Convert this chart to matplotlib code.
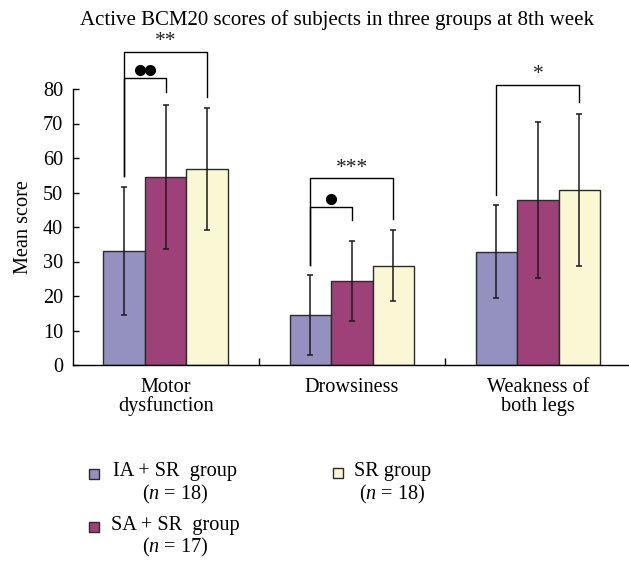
import matplotlib
matplotlib.use("Agg")
import matplotlib.pyplot as plt
import numpy as np
from matplotlib.patches import Rectangle

plt.rcParams['font.family'] = ['Liberation Serif', 'DejaVu Serif']
plt.rcParams['mathtext.fontset'] = 'custom'
plt.rcParams['mathtext.rm'] = 'Liberation Serif'
plt.rcParams['mathtext.it'] = 'Liberation Serif:italic'

categories = ['Motor\ndysfunction', 'Drowsiness', 'Weakness of\nboth legs']
groups = ['IA + SR  group', 'SA + SR  group', 'SR group']
group_n = [18, 17, 18]
colors = ['#9490c0', '#9e4179', '#faf7d4']

means = {
    'IA': [33.1, 14.5, 32.8],
    'SA': [54.5, 24.4, 47.9],
    'SR': [56.8, 28.8, 50.8],
}
errs = {
    'IA': [18.6, 11.7, 13.5],
    'SA': [21.0, 11.6, 22.6],
    'SR': [17.8, 10.3, 22.0],
}

# (category, left bar, right bar, top, left leg end, right leg end, label)
brackets = [
    (0, 0, 2, 90.8, 54.8, 77.8, '**'),
    (0, 0, 1, 83.3, 54.8, 79.1, 'dot2'),
    (1, 0, 2, 54.1, 29.0, 42.4, '***'),
    (1, 0, 1, 45.9, 29.0, 42.1, 'dot1'),
    (2, 0, 2, 81.2, 49.3, 76.2, '*'),
]

FS = 14.6
W, H = 629, 562
fig = plt.figure(figsize=(W / 100, H / 100), dpi=100)
ax = fig.add_axes([72.7 / W, 1 - 365 / H, (W - 72.7) / W, (365 - 89) / H])

x = np.arange(len(categories))
bw = 0.223
for i, key in enumerate(['IA', 'SA', 'SR']):
    ax.bar(x + (i - 1) * bw, means[key], bw, color=colors[i],
           edgecolor='#2b2b2b', linewidth=1.0, zorder=2)
    ax.errorbar(x + (i - 1) * bw, means[key], yerr=errs[key], fmt='none',
                ecolor='#1a1a1a', elinewidth=1.1, capsize=2.5, capthick=1.1,
                zorder=3)

for c, l, r, top, lb, rb, lab in brackets:
    xl = c + (l - 1) * bw
    xr = c + (r - 1) * bw
    ax.plot([xl, xl, xr, xr], [lb, top, top, rb], color='black', lw=1.0,
            clip_on=False, zorder=4)
    xm = (xl + xr) / 2
    if lab == 'dot2':
        ax.plot([xm - 0.025, xm + 0.025], [top + 2.1, top + 2.1], 'o',
                color='black', ms=7, clip_on=False)
    elif lab == 'dot1':
        ax.plot([xm], [top + 2.2], 'o', color='black', ms=7, clip_on=False)
    else:
        ax.text(xm, top + 0.2, lab, ha='center', va='bottom', fontsize=15.5,
                color='#222222', clip_on=False)

ax.set_xlim(-0.5, 2.49)
ax.set_ylim(0, 80)
ax.set_yticks(np.arange(0, 81, 10))
ax.set_xticks(x)
ax.set_xticklabels(categories, linespacing=1.0)
ax.set_xticks([0.5, 1.5], minor=True)
ax.tick_params(axis='x', which='major', length=0, pad=9, labelsize=FS)
ax.tick_params(axis='x', which='minor', direction='in', length=5, width=1.0)
ax.tick_params(axis='y', direction='in', length=4, width=1.0, pad=7,
               labelsize=FS)
for s in ['top', 'right']:
    ax.spines[s].set_visible(False)
for s in ['left', 'bottom']:
    ax.spines[s].set_linewidth(1.0)
ax.set_ylabel('Mean score', fontsize=FS, labelpad=7)

fig.text(337 / W, 1 - 20 / H,
         'Active BCM20 scores of subjects in three groups at 8th week',
         ha='center', va='center', fontsize=15)

# legend
leg_pos = [(89, 473.5, 175, 484), (89, 527, 175, 537.5), (333, 473, 392.5, 484)]
for (sx, sy, tx, ty), name, n, col in zip(leg_pos, groups, group_n, colors):
    fig.patches.append(Rectangle((sx / W, 1 - (sy + 5) / H), 10 / W, 10 / H,
                                 transform=fig.transFigure, facecolor=col,
                                 edgecolor='#2b2b2b', linewidth=1.0))
    fig.text(tx / W, 1 - ty / H, name + '\n($n$ = %d)' % n, ha='center',
             va='center', multialignment='center', fontsize=FS,
             linespacing=1.1)

fig.savefig('out.png', dpi=100)
